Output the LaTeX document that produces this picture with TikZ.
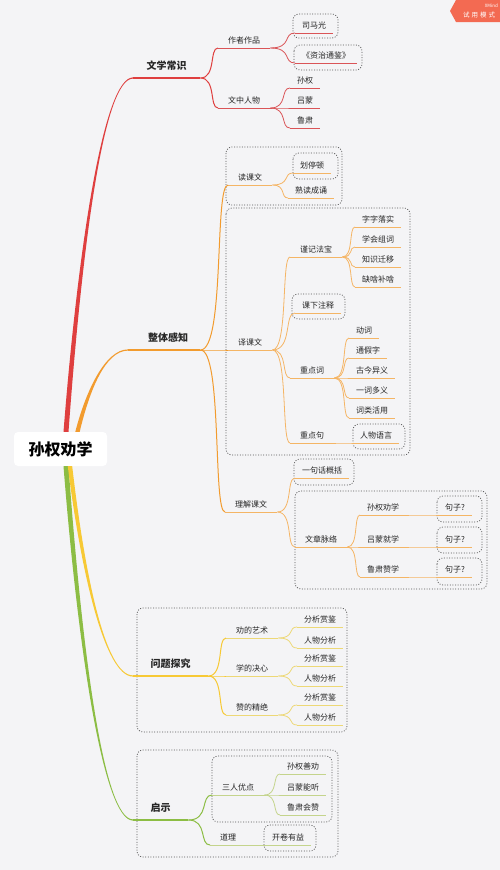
\documentclass[tikz,border=0pt]{standalone}
\usepackage{fontspec}
\setmainfont{Noto Sans CJK SC}
\usetikzlibrary{calc}
\usepackage{xcolor}
\definecolor{mmbg}{HTML}{F4F4F6}
\definecolor{ink}{HTML}{262626}
\definecolor{mmred}{HTML}{DF3F3F}
\definecolor{mmredl}{HTML}{DA5457}
\definecolor{mmorange}{HTML}{F29B2E}
\definecolor{mmorangel}{HTML}{F4B565}
\definecolor{mmyellow}{HTML}{F7C935}
\definecolor{mmyellowl}{HTML}{EDD876}
\definecolor{mmgreen}{HTML}{8CBD44}
\definecolor{mmgreenl}{HTML}{C4D48C}
\definecolor{boxline}{HTML}{555555}
\definecolor{badge}{HTML}{F36A52}

% curved connector, end of one underline to start of the next
\newcommand{\twig}[3]{\draw[#1] let \p1=(#2.south east), \p2=(#3.south west) in
  (\p1) .. controls ({0.1*\x1+0.9*\x2},\y1) and ({0.5*\x1+0.5*\x2},\y2) .. (\p2);}
% tapered main branch
\newcommand{\trunk}[4]{\fill[#1] let \p1=(#2), \p2=(#3) in
  ({\x1-(#4)},\y1) .. controls ({\x1+0.2*(\x2-\x1)-0.8*(#4)},{0.5*(\y1+\y2)})
    and ({0.45*\x1+0.55*\x2},{\y2+0.6}) .. ({\x2},{\y2+0.6})
  -- ({\x2},{\y2-0.6}) .. controls ({0.45*\x1+0.55*\x2},{\y2-0.6})
    and ({\x1+0.2*(\x2-\x1)+0.8*(#4)},{0.5*(\y1+\y2)}) .. ({\x1+(#4)},\y1) -- cycle;}

\begin{document}
\begin{tikzpicture}[x=1pt, y=-1pt,
    leaf/.style={anchor=south west, inner xsep=7pt, inner ysep=4pt, text=ink,
      font=\fontsize{8}{9}\selectfont,
      append after command={(\tikzlastnode.south west) edge[draw=#1, line width=0.8pt] (\tikzlastnode.south east)}},
    twigtopic/.style={leaf=#1, inner xsep=10pt},
    main/.style={anchor=south west, inner xsep=0pt, inner ysep=7.5pt, text=ink,
      font=\bfseries\fontsize{10}{12}\selectfont,
      append after command={(\tikzlastnode.south west) edge[draw=#1, line width=1.2pt] (\tikzlastnode.south east)}},
    grp/.style={draw=boxline, line width=0.7pt, dash pattern=on 1pt off 1.6pt, rounded corners=6pt}]
  \fill[mmbg] (0,0) rectangle (500,870);
  \useasboundingbox (0,0) rectangle (500,870);

  % dotted groups
  \draw[grp] (293,14) rectangle (338,38);
  \draw[grp] (294,45) rectangle (362,70);
  \draw[grp] (226,147) rectangle (342,205);
  \draw[grp] (293,153) rectangle (338,179);
  \draw[grp] (226,208) rectangle (410,455);
  \draw[grp] (292,294) rectangle (345,319);
  \draw[grp] (353,424) rectangle (405,449);
  \draw[grp] (294,459) rectangle (354,485);
  \draw[grp] (295,491) rectangle (487,589);
  \draw[grp] (437,496) rectangle (482,522);
  \draw[grp] (437,527) rectangle (482,553);
  \draw[grp] (437,558) rectangle (482,585);
  \draw[grp] (137,608) rectangle (347,732);
  \draw[grp] (137,750) rectangle (338,857);
  \draw[grp] (212,756) rectangle (332,822);
  \draw[grp] (264,825) rectangle (316,851);

  \node[fill=white, rounded corners=4pt, minimum width=93pt, minimum height=34pt,
        font=\bfseries\fontsize{16}{18}\selectfont, text=black] (root) at (60.5,449) {孙权劝学};

  % 文学常识
  \node[main=mmred, minimum width=67pt] (wxcs) at (133,78) {文学常识};
  \node[twigtopic=mmredl] (zzzp) at (218,48) {作者作品};
  \node[twigtopic=mmredl] (wzrw) at (218,108) {文中人物};
  \node[leaf=mmredl] (smg) at (295,33) {司马光};
  \node[leaf=mmredl] (zztj) at (295,63) {《资治通鉴》};
  \node[leaf=mmredl] (sq) at (290,88) {孙权};
  \node[leaf=mmredl] (lm) at (290,108) {吕蒙};
  \node[leaf=mmredl] (ls) at (290,128) {鲁肃};

  % 整体感知
  \node[main=mmorange, minimum width=72pt] (ztgz) at (128,350) {\hspace*{8pt}整体感知};
  \node[twigtopic=mmorangel] (dkw) at (228,185) {读课文};
  \node[leaf=mmorangel] (htd) at (293,173) {划停顿};
  \node[leaf=mmorangel] (sdcs) at (288,198) {熟读成诵};
  \node[twigtopic=mmorangel] (ykw) at (228,350) {译课文};
  \node[twigtopic=mmorangel] (jjfb) at (290,257) {谨记法宝};
  \node[leaf=mmorangel] (zzls) at (355,227) {字字落实};
  \node[leaf=mmorangel] (xhzc) at (355,247) {学会组词};
  \node[leaf=mmorangel] (zsqy) at (355,267) {知识迁移};
  \node[leaf=mmorangel] (qsbs) at (355,287) {缺啥补啥};
  \node[leaf=mmorangel] (kxzs) at (295,313) {课下注释};
  \node[twigtopic=mmorangel] (zdc) at (290,378) {重点词};
  \node[leaf=mmorangel] (dc) at (349,338) {动词};
  \node[leaf=mmorangel] (tjz) at (349,358) {通假字};
  \node[leaf=mmorangel] (gjyy) at (349,378) {古今异义};
  \node[leaf=mmorangel] (ycdy) at (349,398) {一词多义};
  \node[leaf=mmorangel] (clhy) at (349,418) {词类活用};
  \node[twigtopic=mmorangel] (zdj) at (290,443) {重点句};
  \node[leaf=mmorangel] (rwyy) at (353,443) {人物语言};
  \node[twigtopic=mmorangel] (ljkw) at (225,512) {理解课文};
  \node[leaf=mmorangel] (yjhgk) at (295,478) {一句话概括};
  \node[twigtopic=mmorangel] (wzml) at (295,547) {文章脉络};
  \node[leaf=mmorangel] (sqqx) at (360,515) {孙权劝学};
  \node[leaf=mmorangel] (lmjx) at (360,547) {吕蒙就学};
  \node[leaf=mmorangel] (lszx) at (360,577) {鲁肃赞学};
  \node[leaf=mmorangel] (jza) at (438,515) {句子?};
  \node[leaf=mmorangel] (jzb) at (438,547) {句子?};
  \node[leaf=mmorangel] (jzc) at (438,577) {句子?};

  % 问题探究
  \node[main=mmyellow, minimum width=75pt] (wtty) at (133,676) {问题探究};
  \node[twigtopic=mmyellowl] (qdys) at (226,638) {劝的艺术};
  \node[twigtopic=mmyellowl] (xdjx) at (226,676) {学的决心};
  \node[twigtopic=mmyellowl] (zdjj) at (226,715) {赞的精绝};
  \node[leaf=mmyellowl] (fxa) at (297,627) {分析赏鉴};
  \node[leaf=mmyellowl] (rwa) at (297,648) {人物分析};
  \node[leaf=mmyellowl] (fxb) at (297,666) {分析赏鉴};
  \node[leaf=mmyellowl] (rwb) at (297,686) {人物分析};
  \node[leaf=mmyellowl] (fxc) at (297,705) {分析赏鉴};
  \node[leaf=mmyellowl] (rwc) at (297,725) {人物分析};

  % 启示
  \node[main=mmgreen, minimum width=55pt] (qs) at (133,820) {启示};
  \node[twigtopic=mmgreenl] (srfd) at (212,795) {三人优点};
  \node[leaf=mmgreenl] (sqsq) at (280,774) {孙权善劝};
  \node[leaf=mmgreenl] (lmnt) at (280,795) {吕蒙能听};
  \node[leaf=mmgreenl] (lshz) at (280,815) {鲁肃会赞};
  \node[twigtopic=mmgreenl] (dl) at (210,845) {道理};
  \node[leaf=mmgreenl] (jkyy) at (265,845) {开卷有益};

  % main branches
  \trunk{mmred}{$(root.north)+(5.5,0)$}{wxcs.south west}{2.5}
  \trunk{mmorange}{$(root.north)+(17,0)$}{ztgz.south west}{2.2}
  \trunk{mmgreen}{$(root.south)+(5.5,0)$}{qs.south west}{-2.5}
  \trunk{mmyellow}{$(root.south)+(9.5,0)$}{wtty.south west}{-2.2}

  \foreach \a/\b in {wxcs/zzzp, wxcs/wzrw} {\twig{mmred, line width=1pt}{\a}{\b}}
  \foreach \a/\b in {zzzp/smg, zzzp/zztj, wzrw/sq, wzrw/lm, wzrw/ls} {\twig{mmredl, line width=0.8pt}{\a}{\b}}
  \foreach \a/\b in {ztgz/dkw, ztgz/ykw, ztgz/ljkw} {\twig{mmorange, line width=1pt}{\a}{\b}}
  \foreach \a/\b in {dkw/htd, dkw/sdcs, ykw/jjfb, ykw/kxzs, ykw/zdc, ykw/zdj,
    jjfb/zzls, jjfb/xhzc, jjfb/zsqy, jjfb/qsbs, zdc/dc, zdc/tjz, zdc/gjyy, zdc/ycdy, zdc/clhy,
    zdj/rwyy, ljkw/yjhgk, ljkw/wzml, wzml/sqqx, wzml/lmjx, wzml/lszx,
    sqqx/jza, lmjx/jzb, lszx/jzc} {\twig{mmorangel, line width=0.8pt}{\a}{\b}}
  \foreach \a/\b in {wtty/qdys, wtty/xdjx, wtty/zdjj} {\twig{mmyellow, line width=1pt}{\a}{\b}}
  \foreach \a/\b in {qdys/fxa, qdys/rwa, xdjx/fxb, xdjx/rwb, zdjj/fxc, zdjj/rwc} {\twig{mmyellowl, line width=0.8pt}{\a}{\b}}
  \foreach \a/\b in {qs/srfd, qs/dl} {\twig{mmgreen, line width=1pt}{\a}{\b}}
  \foreach \a/\b in {srfd/sqsq, srfd/lmnt, srfd/lshz, dl/jkyy} {\twig{mmgreenl, line width=0.8pt}{\a}{\b}}

  % trial badge
  \fill[badge] (456,0) -- (500,0) -- (500,22) -- (456,22) -- (450,11) -- cycle;
  \node[text=white, font=\fontsize{4.5}{5}\selectfont, anchor=east, inner sep=0pt] (xmind) at (498,5.5) {XMind};
  \node[text=white, font=\fontsize{6.5}{7}\selectfont, inner sep=0pt] (trial) at (479,15) {试\hspace{2pt}用\hspace{2pt}模\hspace{2pt}式};
\end{tikzpicture}
\end{document}
